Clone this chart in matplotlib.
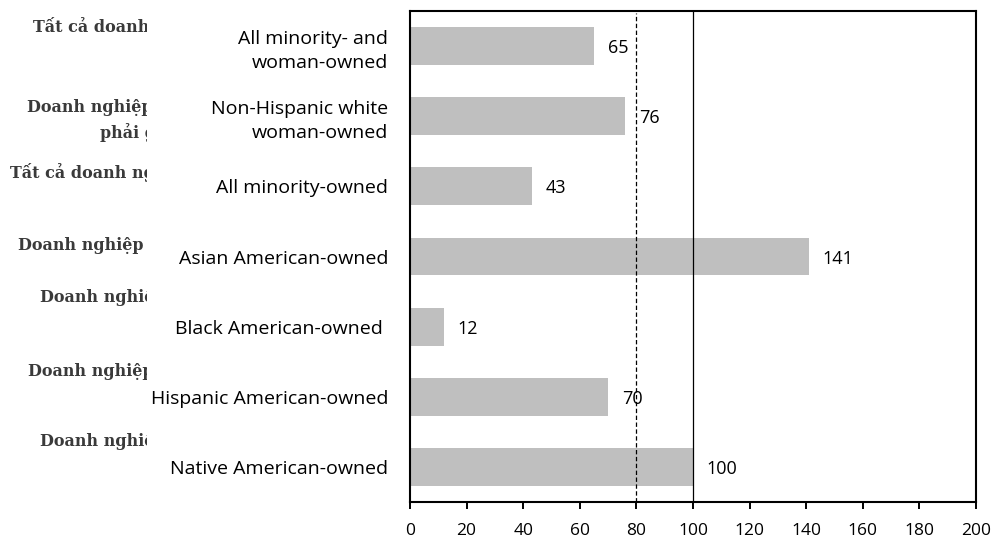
import matplotlib
matplotlib.use("Agg")
import matplotlib.pyplot as plt
from matplotlib.transforms import Bbox

categories = [
    "All minority- and\nwoman-owned",
    "Non-Hispanic white\nwoman-owned",
    "All minority-owned",
    "Asian American-owned",
    "Black American-owned ",
    "Hispanic American-owned",
    "Native American-owned",
]
values = [65, 76, 43, 141, 12, 70, 100]
xticks = [0, 20, 40, 60, 80, 100, 120, 140, 160, 180, 200]
ref_solid = 100
ref_dashed = 80

# Clipped Vietnamese labels visible at the far left (text, start x px, centre y px)
viet_labels = [
    ("Tất cả doanh nghiệp", 33, 27),
    ("Doanh nghiệp do", 27, 107),
    ("phải gốc", 100, 133),
    ("Tất cả doanh nghiệp", 10, 172),
    ("Doanh nghiệp", 18, 245),
    ("Doanh nghiệp", 40, 298),
    ("Doanh nghiệp", 28, 372),
    ("Doanh nghiệp", 40, 441),
]

W, H = 995, 539
fig = plt.figure(figsize=(W / 100, H / 100), dpi=100)
ax = fig.add_axes([410 / W, 1 - 502 / H, (976 - 410) / W, (502 - 11) / H])

ypos = list(range(len(categories)))
ax.barh(ypos, values, height=0.54, color="#bfbfbf", zorder=2)
ax.set_ylim(len(categories) - 0.5, -0.5)
ax.set_xlim(0, 200)
ax.set_xticks(xticks)
ax.set_xticklabels([str(t) for t in xticks], fontsize=12.5, family="Open Sans", color="#000000")
ax.set_yticks(ypos)
ax.set_yticklabels(categories, fontsize=14, family="Open Sans", color="#000000",
                   multialignment="right", linespacing=1.4)
ax.tick_params(axis="y", length=0, pad=15.5)
ax.tick_params(axis="x", length=5, width=1.4, direction="out", pad=10)

ax.axvline(ref_solid, color="black", lw=0.9, zorder=3)
ax.axvline(ref_dashed, color="black", lw=0.9, ls=(0, (3.5, 2)), ymax=0.995, zorder=3)

for y, v in zip(ypos, values):
    ax.text(v + 4.8, y + 0.03, str(v), va="center", ha="left", fontsize=13,
            family="Open Sans", zorder=4)

for s in ax.spines.values():
    s.set_color("black")
    s.set_linewidth(1.5)

clip = Bbox.from_extents(0, 0, 147, H)
for txt, x, y in viet_labels:
    t = fig.text(x / W, 1 - y / H, txt, ha="left", va="center", fontsize=11.5,
                 family="DejaVu Serif", weight="bold", color="#3a3a3a")
    t.set_clip_box(clip)
    t.set_clip_on(True)

fig.savefig("out.png", dpi=100)
